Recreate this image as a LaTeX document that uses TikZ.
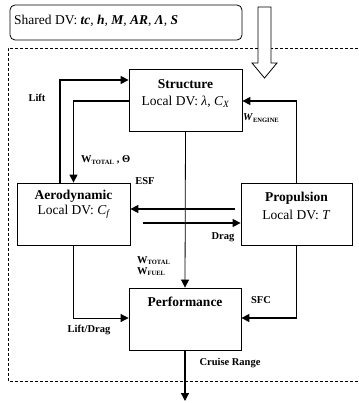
\documentclass[tikz,border=0pt]{standalone}
\usepackage{fontspec}
\setmainfont{Liberation Serif}
\usetikzlibrary{arrows.meta}
\tikzset{
  box/.style={draw, line width=0.8pt, inner sep=0pt},
  title/.style={font=\fontsize{13.5}{15}\selectfont\bfseries, anchor=center, inner sep=0pt},
  dv/.style={font=\fontsize{13.5}{15}\selectfont, anchor=center, inner sep=0pt},
  lbl/.style={font=\fontsize{10.5}{12}\selectfont\bfseries, inner sep=0pt},
  flow/.style={line width=1.3pt, -{Triangle[length=8pt,width=8pt]}},
  thinflow/.style={line width=0.8pt, -{Triangle[length=8pt,width=8pt]}},
  frame/.style={dashed, line width=0.6pt, dash pattern=on 3pt off 2pt}
}
\newcommand{\sbx}[1]{\textsubscript{\fontsize{6.5}{7}\selectfont #1}}
\begin{document}
\begin{tikzpicture}[x=1pt,y=-1pt]
\useasboundingbox (0,0) rectangle (358,403);
% frame
\draw[frame] (358,48) -- (8,48) -- (8,381) -- (358,381);
% shared box
\node[draw, line width=0.8pt, rounded corners=5pt, minimum width=232pt, minimum height=35pt, inner sep=0pt] (shared) at (126,22.5) {};
\node[anchor=west, inner sep=0pt, font=\fontsize{13.5}{15}\selectfont] (sharedtxt) at (14,21) {Shared DV: \textit{\textbf{tc}, \textbf{h}, \textbf{M}, \textbf{AR}, \textbf{Λ}, \textbf{S}}};
% hollow arrow
\draw[line width=0.8pt, fill=white] (258,7) -- (271,7) -- (271,63) -- (277,63) -- (264.5,78) -- (252,63) -- (258,63) -- cycle;
% boxes
\node[box, minimum width=113pt, minimum height=62pt] (str) at (185.5,100) {};
\node[box, minimum width=113pt, minimum height=62pt] (aer) at (73.5,214) {};
\node[box, minimum width=111pt, minimum height=62pt] (pro) at (296.5,214) {};
\node[box, minimum width=112pt, minimum height=62pt] (per) at (185,319) {};
% box texts
\node[title] (strt) at (185.5,84) {Structure};
\node[dv] (strd) at (185.5,102) {Local DV: \textit{λ}, \textit{C\textsubscript{X}}};
\node[title] (aert) at (73.5,196) {Aerodynamic};
\node[dv] (aerd) at (73.5,212) {Local DV: \textit{C\textsubscript{f}}};
\node[title] (prot) at (296.5,198) {Propulsion};
\node[dv] (prod) at (296.5,215) {Local DV: \textit{T}};
\node[title] (pert) at (185,302) {Performance};
% connectors
\draw[flow] ([xshift=-13.5pt]aer.north) |- ([yshift=20pt]str.west);
\draw[flow] ([yshift=-1pt]str.west) -| (aer.north);
\draw[thinflow] (str.south) -- (per.north);
\draw[flow] (pro.north) |- ([yshift=-1pt]str.east);
\coordinate (esfs) at (235,209);
\coordinate (drags) at (143,223);
\draw[flow] (esfs) -- (aer.east |- esfs);
\draw[flow] (drags) -- (pro.west |- drags);
\draw[thinflow] (aer.south) |- ([yshift=1pt]per.west);
\draw[flow] (pro.south) |- ([yshift=1pt]per.east);
\coordinate (cr) at (185,401);
\draw[flow] (per.south) -- (cr);
% labels
\node[lbl] (llift) at (37,98) {Lift};
\node[lbl, anchor=west] (lwt) at (81,160) {W\sbx{TOTAL} , Θ};
\node[lbl] (lesf) at (145,181) {ESF};
\node[lbl, anchor=west] (lwe) at (243,118) {\textit{W}\sbx{ENGINE}};
\node[lbl] (ldrag) at (223,237) {Drag};
\node[lbl, anchor=west, align=left] (lwtf) at (137,266) {W\sbx{TOTAL}\\[-1pt]W\sbx{FUEL}};
\node[lbl] (lld) at (89,330) {Lift/Drag};
\node[lbl] (lsfc) at (261,300) {SFC};
\node[lbl] (lcr) at (230,363) {Cruise Range};
\end{tikzpicture}
\end{document}
